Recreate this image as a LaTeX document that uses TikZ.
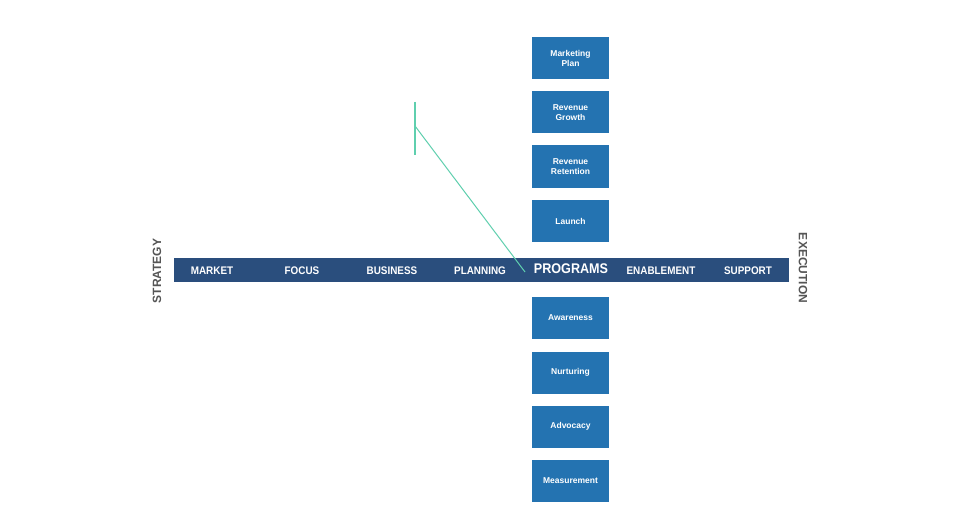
\documentclass[tikz,border=0pt]{standalone}
\usepackage{fontspec}
\setmainfont{Liberation Sans}
\definecolor{navy}{HTML}{2A4E7D}
\definecolor{boxblue}{HTML}{2473B1}
\definecolor{teal}{HTML}{5FCFAE}
\definecolor{lbl}{HTML}{555555}
\begin{document}
\begin{tikzpicture}[x=1pt,y=-1pt,
  prog/.style={fill=boxblue,minimum width=77pt,minimum height=42pt,text=white,font=\fontsize{8.5}{10}\selectfont\bfseries,align=center,inner sep=0pt},
  bartext/.style={text=white,font=\fontsize{11}{12}\selectfont\bfseries},
  side/.style={text=lbl,font=\fontsize{12}{13}\selectfont\bfseries}]
\useasboundingbox (0,0) rectangle (960,513);
\fill[white] (0,0) rectangle (960,513);
\node[fill=navy,minimum width=615pt,minimum height=24pt,inner sep=0pt] (bar) at (481.5,270) {};
\node[bartext,xscale=0.9] (m) at (212,271) {MARKET};
\node[bartext,xscale=0.9] (f) at (302,271) {FOCUS};
\node[bartext,xscale=0.9] (b) at (392,271) {BUSINESS};
\node[bartext,xscale=0.9] (p) at (480,271) {PLANNING};
\node[text=white,font=\fontsize{14}{15}\selectfont\bfseries,xscale=0.9] (pr) at (571,269) {PROGRAMS};
\node[bartext,xscale=0.9] (e) at (661,271) {ENABLEMENT};
\node[bartext,xscale=0.9] (s) at (748,271) {SUPPORT};
\node[side,rotate=90] (st) at (157,271) {STRATEGY};
\node[side,rotate=-90] (ex) at (803,268) {EXECUTION};
\node[prog] (b1) at (570.5,58) {Marketing\\Plan};
\node[prog] (b2) at (570.5,112.5) {Revenue\\Growth};
\node[prog] (b3) at (570.5,166.5) {Revenue\\Retention};
\node[prog] (b4) at (570.5,221) {Launch};
\node[prog] (b5) at (570.5,317.5) {Awareness};
\node[prog] (b6) at (570.5,372.5) {Nurturing};
\node[prog] (b7) at (570.5,426.5) {Advocacy};
\node[prog] (b8) at (570.5,481) {Measurement};
\coordinate (t1) at (415,102);
\coordinate (t2) at (415,155);
\coordinate (tj) at (415,126);
\coordinate (tend) at (525,272);
\draw[teal,line width=1.2pt] (t1) -- (t2);
\draw[teal,line width=1pt] (tj) -- (tend);
\end{tikzpicture}
\end{document}
